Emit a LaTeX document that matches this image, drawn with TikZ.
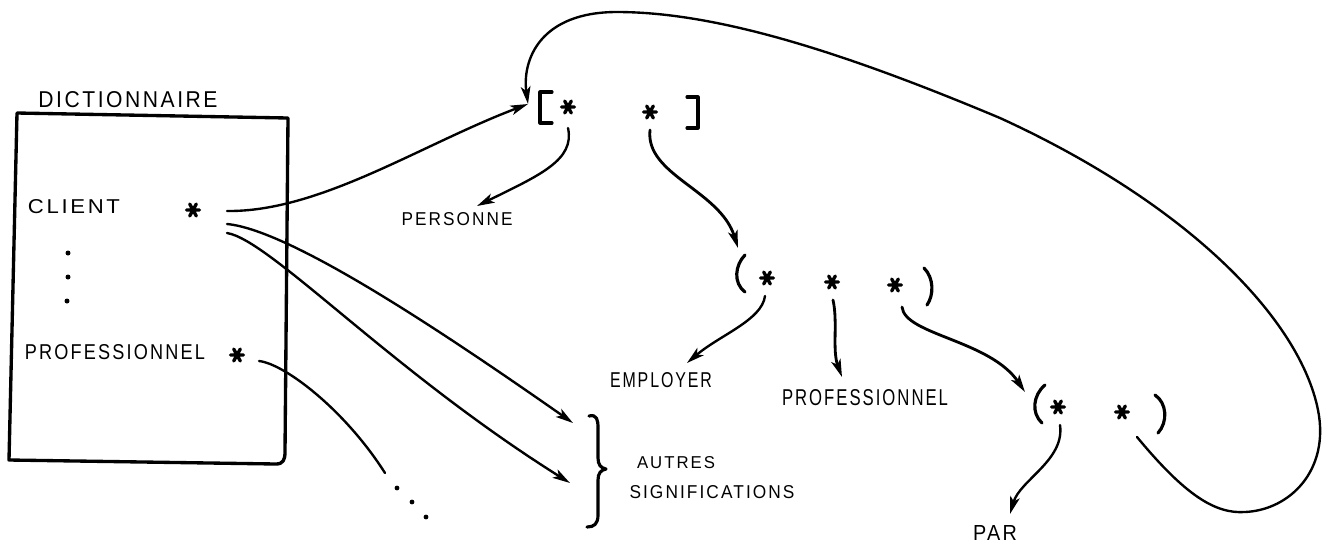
\documentclass[tikz,border=0pt]{standalone}
\usepackage{fontspec}
\setmainfont{Liberation Sans}
\newfontfamily\lettering[LetterSpace=12]{Liberation Sans}
\usetikzlibrary{arrows.meta}
\newlength\px
\setlength\px{0.02cm}
% hand-lettered caption: width, cap height, text
\newcommand\handlbl[3]{\resizebox{#1\px}{#2\px}{\lettering #3}}

\begin{document}
\begin{tikzpicture}[x=0.02cm,y=-0.02cm,
  ink/.style={line width=1.35pt, line cap=round, line join=round},
  heavy/.style={ink, line width=1.8pt},
  link/.style={ink, -{Stealth[length=10pt,width=5.5pt,inset=2.5pt]}},
  lbl/.style={inner sep=0pt, outer sep=0pt},
  astk/.pic={\draw[line width=1.9pt,line cap=round]
     (-6.5,0)--(6.5,0) (-3.3,-6)--(3.3,6) (-3.3,6)--(3.3,-6);}]
\useasboundingbox (0,0) rectangle (1326,549);

% ---------- dictionary ----------
\node[lbl] (dict) at (128,100) {\handlbl{179}{16}{DICTIONNAIRE}};
\draw[line width=1.9pt, line join=round]
  (17,113) -- (288,118) -- (285,452) .. controls (285,460) and (283,464) .. (276,464)
  -- (9,460) -- cycle;
\node[lbl] (client) at (74,207) {\handlbl{92}{14}{CLIENT}};
\node[lbl] (prof) at (115,352) {\handlbl{180}{15}{PROFESSIONNEL}};
\pic at (193,210) {astk};
\pic at (237,355) {astk};
\fill (68,253) circle (2.5) (68,277) circle (2.5) (67,301) circle (2.5);

\coordinate (cA) at (227,211);
\coordinate (cB) at (227,224);
\coordinate (cC) at (227,233);
\coordinate (pA) at (259,361);
\coordinate (pEnd) at (385,473);

% ---------- top structure [* *] ----------
\draw[heavy] (552,92) -- (540,92) -- (540,123) -- (552,123);
\draw[heavy] (687,97) -- (698,97) -- (698,128) -- (687,128);
\pic at (568,107) {astk};
\pic at (650,112) {astk};
\coordinate (bIn) at (528,104);
\coordinate (b1) at (568,128);
\coordinate (b2) at (650,130);
\node[lbl] (personne) at (457,219) {\handlbl{111}{13}{PERSONNE}};
\coordinate (persIn) at (477,206);

% ---------- ( * * * ) ----------
\draw[heavy] (745,255) .. controls (735,265) and (733,283) .. (745,292);
\draw[heavy] (924,268) .. controls (934,278) and (934,295) .. (927,305);
\pic at (767,278) {astk};
\pic at (832,282) {astk};
\pic at (895,285) {astk};
\coordinate (tIn) at (738,248);
\coordinate (t1) at (765,296);
\coordinate (t2) at (833,300);
\coordinate (t3) at (902,307);
\node[lbl] (employer) at (661,380) {\handlbl{102}{15}{EMPLOYER}};
\node[lbl] (profb) at (865,398) {\handlbl{166}{16}{PROFESSIONNEL}};
\coordinate (empIn) at (687,363);
\coordinate (profIn) at (842,377);

% ---------- ( * * ) ----------
\draw[heavy] (1045,385) .. controls (1033,395) and (1031,413) .. (1042,423);
\draw[heavy] (1155,395) .. controls (1167,403) and (1168,422) .. (1158,433);
\pic at (1058,407) {astk};
\pic at (1122,412) {astk};
\coordinate (qIn) at (1025,392);
\coordinate (q1) at (1060,425);
\coordinate (q2) at (1137,437);
\node[lbl] (par) at (995,533) {\handlbl{44}{15}{PAR}};
\coordinate (parIn) at (1010,514);

% ---------- other meanings ----------
\draw[heavy]
  (589,416) .. controls (597,414) and (598,420) .. (598,428) -- (598,458)
  .. controls (598,465) and (601,468) .. (606,469)
  .. controls (601,470) and (598,473) .. (598,480) -- (598,515)
  .. controls (598,524) and (594,527) .. (587,527);
\coordinate (brA) at (573,423);
\coordinate (brB) at (570,483);
\node[lbl] (autres) at (676,463) {\handlbl{78}{12}{AUTRES}};
\node[lbl] (signif) at (712,492) {\handlbl{165}{13}{SIGNIFICATIONS}};

% ---------- connectors ----------
\draw[link] (cA) .. controls (320,212) and (420,145) .. (bIn);
\draw[link] (cB) .. controls (290,230) and (440,330) .. (brA);
\draw[link] (cC) .. controls (270,240) and (390,370) .. (brB);
\draw[ink] (pA) .. controls (285,364) and (345,410) .. (pEnd);
\fill (397,488) circle (2.4) (412,502) circle (2.4) (426,517) circle (2.4);

\draw[link] (b1) .. controls (575,160) and (540,175) .. (persIn);
\draw[link, line width=1.6pt] (b2) .. controls (645,175) and (720,190) .. (tIn);
\draw[link] (t1) .. controls (762,320) and (720,335) .. (empIn);
\draw[link, line width=1.6pt] (t2) .. controls (838,322) and (832,350) .. (profIn);
\draw[link, line width=1.6pt] (t3) .. controls (905,335) and (990,340) .. (qIn);
\draw[link] (q1) .. controls (1065,460) and (1020,480) .. (parIn);

% back reference to the outer list
\draw[link]
  (q2) .. controls (1185,495) and (1215,514) .. (1245,512)
  .. controls (1290,510) and (1330,470) .. (1318,410)
  .. controls (1300,320) and (1190,205) .. (1000,118)
  .. controls (850,55) and (720,12) .. (617,12)
  .. controls (540,12) and (522,60) .. (bIn);
\end{tikzpicture}
\end{document}
